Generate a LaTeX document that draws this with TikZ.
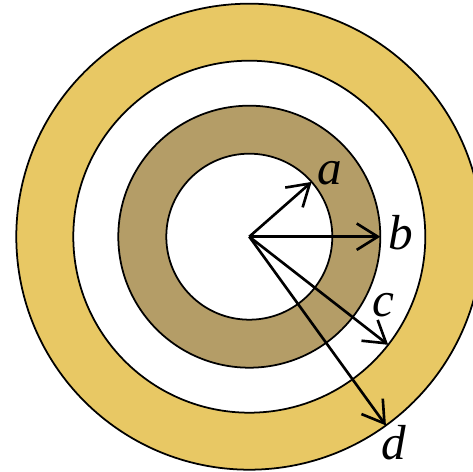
\documentclass[tikz,border=0pt]{standalone}
\usepackage{fontspec}
\setmainfont{Liberation Serif}
\usetikzlibrary{arrows.meta}
\definecolor{ringGold}{RGB}{232,200,100}
\definecolor{ringBrown}{RGB}{180,157,103}
\tikzset{
	ring/.style={draw=black, line width=1pt},
	rarr/.style={-{Straight Barb[length=12pt,width=15pt,line width=1.5pt]}, line width=1.5pt},
	rlab/.style={font=\fontsize{28}{32}\selectfont\itshape, inner sep=0pt}
}
\begin{document}
\begin{tikzpicture}[x=0.02cm, y=0.02cm]
		\useasboundingbox (-249.3,-235.3) rectangle (223.7,236.7);
		\clip (-249.3,-235.3) rectangle (223.7,236.7);
		\coordinate (O) at (0,0);
		% rings, outside in
		\filldraw[ring, fill=ringGold] (O) circle (233);
		\filldraw[ring, fill=white] (O) circle (176);
		\filldraw[ring, fill=ringBrown] (O) circle (131);
		\filldraw[ring, fill=white] (O) circle (83);
		% radius tips
		\coordinate (ta) at (41.3:83);
		\coordinate (tb) at (0:131);
		\coordinate (tc) at (-37.9:176);
		\coordinate (td) at (-54.1:233);
		\draw[rarr] (O) -- (ta);
		\draw[rarr] (O) -- (tb);
		\draw[rarr] (O) -- (tc);
		\draw[rarr] (O) -- (td);
		\node[rlab] (la) at (80.7,64) {a};
		\node[rlab] (lb) at (151.5,4) {b};
		\node[rlab] (lc) at (134,-68.3) {c};
		\node[rlab] (ld) at (144,-206.3) {d};
	\end{tikzpicture}
\end{document}
